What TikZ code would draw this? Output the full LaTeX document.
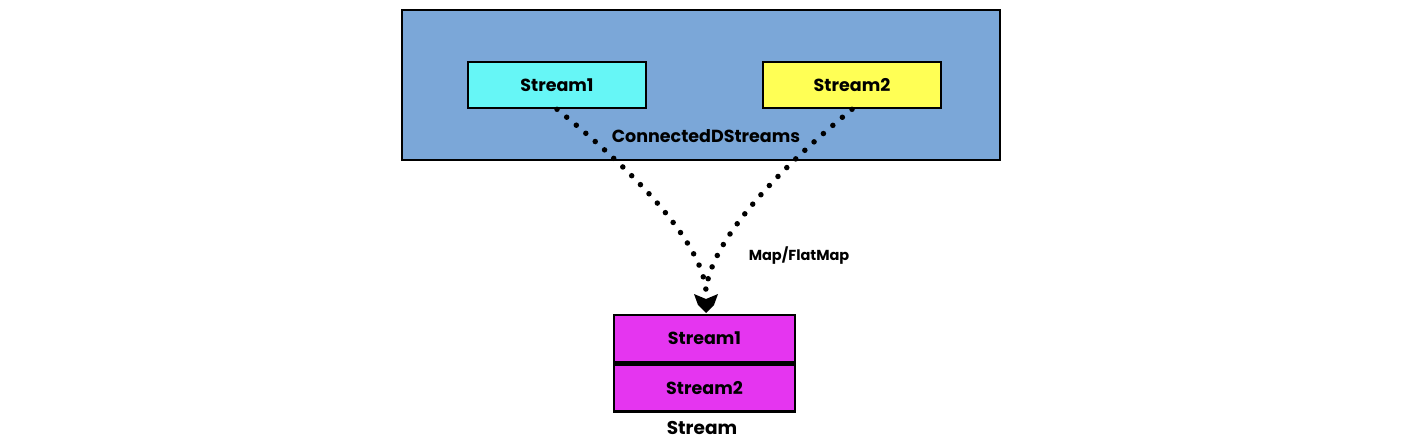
\documentclass[tikz,border=0pt]{standalone}
\usepackage{fontspec}
\setmainfont{Poppins}
\usetikzlibrary{arrows.meta}
\definecolor{outerblue}{HTML}{7BA7D8}
\definecolor{cyanbox}{HTML}{66F6F6}
\definecolor{yellowbox}{HTML}{FFFF55}
\definecolor{magbox}{HTML}{E535F0}
\tikzset{
  sbox/.style={draw=black, line width=2.6pt, minimum width=178pt, minimum height=46pt, inner sep=0pt, font=\fontsize{17.5}{20}\selectfont\bfseries},
  dotline/.style={line width=5.5pt, line cap=round, dash pattern=on 0pt off 12.5pt},
  lbl/.style={font=\fontsize{17.5}{20}\selectfont\bfseries, inner sep=1pt}
}
\begin{document}
\begin{tikzpicture}[x=1pt,y=-1pt]
\useasboundingbox (0,0) rectangle (1414,440);
\node[draw=black, line width=2.6pt, fill=outerblue, minimum width=598pt, minimum height=150pt, inner sep=0pt] (outer) at (701,85) {};
\node[sbox, fill=cyanbox] (s1) at (557,85) {Stream1};
\node[sbox, fill=yellowbox] (s2) at (852,85) {Stream2};
\node[lbl] (cds) at (706,136) {ConnectedDStreams};
\node[sbox, fill=magbox, minimum width=181pt, minimum height=47pt] (b1) at (704.5,338.5) {Stream1};
\node[sbox, fill=magbox, minimum width=181pt, minimum height=47pt, anchor=north] (b2) at (b1.south) {Stream2};
\node[lbl, font=\fontsize{18.5}{21}\selectfont\bfseries] (st) at (702,428) {Stream};
\node[lbl, font=\fontsize{14.5}{17}\selectfont\bfseries] (mf) at (799,256) {Map/FlatMap};
\coordinate (tip) at (706,290);
\draw[dotline] (s1.south) .. controls (620,160) and (700,235) .. (tip);
\draw[dotline] (s2.south) .. controls (790,160) and (712,235) .. (tip);
\fill[black] (694,294) -- (706,299) -- (718,294) -- (714,305) -- (706,313) -- (698,305) -- cycle;
\end{tikzpicture}
\end{document}
